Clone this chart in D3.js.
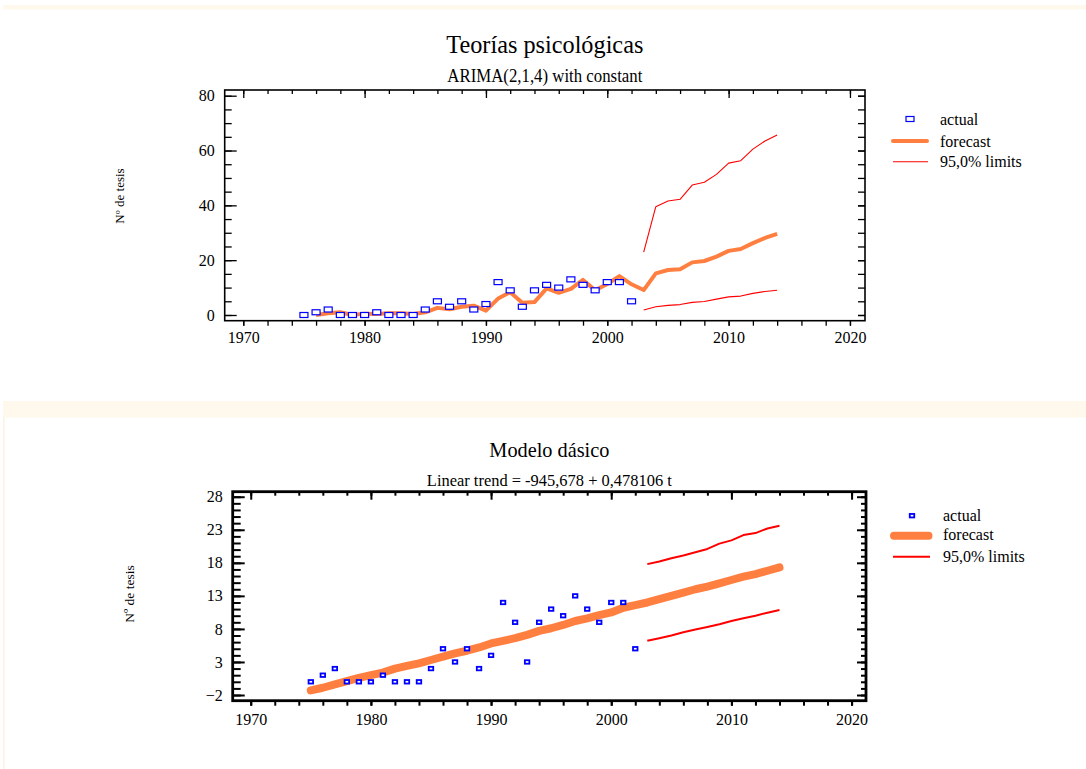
<!DOCTYPE html>
<html>
<head>
<meta charset="utf-8">
<script src="https://cdn.jsdelivr.net/npm/d3@7"></script>
<style>
  html, body { margin: 0; padding: 0; background: #ffffff; }
  svg { display: block; }
  text { font-family: "Liberation Serif", "Times New Roman", serif; fill: #000; }
</style>
</head>
<body>
<svg id="chart" width="1086" height="769"></svg>
<script>
// ---------------- DATA ----------------
const actualYears = [1975,1976,1977,1978,1979,1980,1981,1982,1983,1984,1985,1986,1987,1988,1989,1990,1991,1992,1993,1994,1995,1996,1997,1998,1999,2000,2001,2002];
const actualValues = [0,1,2,0,0,0,1,0,0,0,2,5,3,5,2,4,12,9,3,9,11,10,13,11,9,12,12,5];

// Top chart: ARIMA(2,1,4) forecast
const arimaYears = [1976,1977,1978,1979,1980,1981,1982,1983,1984,1985,1986,1987,1988,1989,1990,1991,1992,1993,1994,1995,1996,1997,1998,1999,2000,2001,2002,2003,2004,2005,2006,2007,2008,2009,2010,2011,2012,2013,2014];
const arimaForecast = [0,0.6,1,0,0.5,0.4,0.6,0.6,0.4,1,2.6,2.1,3,3.4,1.6,6,8.3,4.5,4.7,9.7,8.1,9.5,12.8,9,11.3,14.2,11.2,9.1,15.2,16.4,16.7,19.2,19.7,21.3,23.4,24.1,26.2,28.1,29.6];
const limitYears = [2003,2004,2005,2006,2007,2008,2009,2010,2011,2012,2013,2014];
const arimaUpper = [22.9,39.5,41.6,42.2,47.4,48.4,51.3,55.4,56.3,60.5,63.5,65.7];
const arimaLower = [1.8,3,3.5,3.8,4.6,4.9,5.8,6.6,6.9,7.9,8.6,9];

// Bottom chart: linear trend forecast
const trendYears = [1975,1976,1977,1978,1979,1980,1981,1982,1983,1984,1985,1986,1987,1988,1989,1990,1991,1992,1993,1994,1995,1996,1997,1998,1999,2000,2001,2002,2003,2004,2005,2006,2007,2008,2009,2010,2011,2012,2013,2014];
const trendForecast = [-1.3,-0.9,-0.4,0.1,0.6,1.0,1.4,2.0,2.4,2.8,3.3,3.8,4.3,4.7,5.2,5.8,6.2,6.6,7.1,7.7,8.1,8.6,9.2,9.6,10.1,10.5,11.2,11.6,12.0,12.5,13.0,13.5,14.0,14.4,14.9,15.4,15.9,16.3,16.8,17.3];
const trendUpper = [17.8,18.2,18.7,19.1,19.6,20.1,20.9,21.4,22.2,22.5,23.2,23.6];
const trendLower = [6.2,6.6,7.0,7.5,7.9,8.3,8.7,9.2,9.6,10.0,10.45,10.86];

// Tick labels
const xTickLabels = [1970,1980,1990,2000,2010,2020];
const topYTickLabels = [0,20,40,60,80];
const bottomYTickLabels = [-2,3,8,13,18,23,28];

// Text
const topTitle = "Teorías psicológicas";
const topSubtitle = "ARIMA(2,1,4) with constant";
const bottomTitle = "Modelo dásico";
const bottomSubtitle = "Linear trend = -945,678 + 0,478106 t";
const yLabel = "Nº de tesis";
const legendLabels = ["actual", "forecast", "95,0% limits"];

// ---------------- DRAW ----------------
const FONT = "'Liberation Serif', 'Times New Roman', serif";
const svg = d3.select("#chart");
const ORANGE = "#ff7f40";
const RED = "#ff0000";
const BLUE = "#0000ff";
const CREAM = "#fff8ec";

// panel backgrounds
svg.append("rect").attr("x", 3).attr("y", 5).attr("width", 1083).attr("height", 4.5).attr("fill", CREAM);
svg.append("rect").attr("x", 3).attr("y", 401).attr("width", 1083).attr("height", 16.5).attr("fill", CREAM);
svg.append("rect").attr("x", 3).attr("y", 417).attr("width", 1.5).attr("height", 352).attr("fill", "#fff1e4");

function range(a, b, s) { const r = []; for (let v = a; v <= b + 1e-9; v += s) r.push(+v.toFixed(6)); return r; }

function drawPanel(cfg) {
  const g = svg.append("g").attr("font-family", FONT);
  const x = d3.scaleLinear().domain(cfg.xDomain).range([cfg.left, cfg.right]);
  const y = d3.scaleLinear().domain(cfg.yDomain).range([cfg.bottom, cfg.top]);

  const xMinor = range(1970, 2020, 2);
  const fmt = d3.format("d");
  const styleAxis = a => {
    a.attr("font-family", FONT).attr("font-size", cfg.tickFont);
    a.select(".domain").remove();
    a.selectAll("line").attr("stroke-width", cfg.tickW);
    a.selectAll("text").style("font-family", FONT).style("font-size", cfg.tickFont + "px");
  };

  // bottom axis (outward ticks)
  g.append("g").attr("transform", `translate(0,${cfg.bottom})`)
    .call(d3.axisBottom(x).tickValues(xMinor).tickSize(5).tickFormat("")).call(styleAxis);
  g.append("g").attr("transform", `translate(0,${cfg.bottom})`)
    .call(d3.axisBottom(x).tickValues(xTickLabels).tickSize(5).tickPadding(cfg.xPad).tickFormat(fmt)).call(styleAxis);

  // top axis (inward ticks)
  g.append("g").attr("transform", `translate(0,${cfg.top})`)
    .call(d3.axisTop(x).tickValues(xMinor).tickSize(-4).tickFormat("")).call(styleAxis);
  g.append("g").attr("transform", `translate(0,${cfg.top})`)
    .call(d3.axisTop(x).tickValues(xTickLabels).tickSize(-8).tickFormat("")).call(styleAxis);

  // left axis (inward ticks)
  g.append("g").attr("transform", `translate(${cfg.left},0)`)
    .call(d3.axisLeft(y).tickValues(cfg.yMinor).tickSize(-cfg.leftMinor).tickFormat("")).call(styleAxis);
  g.append("g").attr("transform", `translate(${cfg.left},0)`)
    .call(d3.axisLeft(y).tickValues(cfg.yLabels).tickSize(-12).tickPadding(cfg.yPad).tickFormat(fmt)).call(styleAxis);

  // right axis (inward ticks)
  g.append("g").attr("transform", `translate(${cfg.right},0)`)
    .call(d3.axisRight(y).tickValues(cfg.yMinor).tickSize(-cfg.rightMinor).tickFormat("")).call(styleAxis);
  g.append("g").attr("transform", `translate(${cfg.right},0)`)
    .call(d3.axisRight(y).tickValues(cfg.yLabels).tickSize(-cfg.rightMajor).tickFormat("")).call(styleAxis);

  // frame
  g.append("rect").attr("x", cfg.left).attr("y", cfg.top)
    .attr("width", cfg.right - cfg.left).attr("height", cfg.bottom - cfg.top)
    .attr("fill", "none").attr("stroke", "#000").attr("stroke-width", cfg.frameW);

  // titles
  g.append("text").attr("x", (cfg.left + cfg.right) / 2).attr("y", cfg.titleY)
    .attr("text-anchor", "middle").style("font-size", cfg.titleFont + "px")
    .attr("textLength", cfg.titleLen).attr("lengthAdjust", "spacingAndGlyphs").text(cfg.title);
  g.append("text").attr("x", (cfg.left + cfg.right) / 2).attr("y", cfg.subY)
    .attr("text-anchor", "middle").style("font-size", cfg.subFont + "px")
    .attr("textLength", cfg.subLen).attr("lengthAdjust", "spacingAndGlyphs").text(cfg.subtitle);

  // y label
  g.append("text").attr("transform", `translate(${cfg.yLabX},${cfg.yLabY}) rotate(-90)`)
    .attr("text-anchor", "middle").attr("dominant-baseline", "central")
    .style("font-size", cfg.yLabFont + "px").text(yLabel);

  // limits
  const line = d3.line().x(d => x(d[0])).y(d => y(d[1]));
  [cfg.upper, cfg.lower].forEach(vals => {
    g.append("path").datum(limitYears.map((yr, i) => [yr, vals[i]]))
      .attr("d", line).attr("fill", "none").attr("stroke", RED)
      .attr("stroke-width", cfg.limitW).attr("stroke-linejoin", "round");
  });

  // forecast
  g.append("path").datum(cfg.fYears.map((yr, i) => [yr, cfg.fVals[i]]))
    .attr("d", line).attr("fill", "none").attr("stroke", ORANGE)
    .attr("stroke-width", cfg.fW).attr("stroke-linejoin", "round").attr("stroke-linecap", cfg.fCap);

  // actual markers
  g.selectAll("rect.act").data(actualYears.map((yr, i) => [yr, actualValues[i]])).enter()
    .append("rect").attr("class", "act")
    .attr("x", d => x(d[0]) - cfg.mW / 2).attr("y", d => y(d[1]) - cfg.mH / 2)
    .attr("width", cfg.mW).attr("height", cfg.mH)
    .attr("fill", "#fff").attr("stroke", BLUE).attr("stroke-width", cfg.mSW);

  // legend
  const L = cfg.legend;
  g.append("rect").attr("x", L.mx - cfg.mW / 2).attr("y", L.my - cfg.mH / 2)
    .attr("width", cfg.mW).attr("height", cfg.mH).attr("fill", "#fff")
    .attr("stroke", BLUE).attr("stroke-width", cfg.mSW);
  g.append("line").attr("x1", L.fx1).attr("x2", L.fx2).attr("y1", L.fy).attr("y2", L.fy)
    .attr("stroke", ORANGE).attr("stroke-width", cfg.fW).attr("stroke-linecap", "round");
  g.append("line").attr("x1", L.lx1).attr("x2", L.lx2).attr("y1", L.ly).attr("y2", L.ly)
    .attr("stroke", RED).attr("stroke-width", cfg.limitW);
  legendLabels.forEach((t, i) => {
    g.append("text").attr("x", L.tx).attr("y", L.ty[i]).style("font-size", "16px").text(t);
  });
}

// Top panel
drawPanel({
  left: 224.7, right: 865, top: 90, bottom: 320.7,
  xDomain: [1968.47, 2021.24], yDomain: [-2.08, 82.08],
  yMinor: range(0, 80, 5), yLabels: topYTickLabels,
  leftMinor: 7, rightMinor: 7, rightMajor: 7,
  tickW: 1.3, frameW: 1.6, tickFont: 16, xPad: 6, yPad: 10,
  title: topTitle, titleY: 53, titleFont: 26, titleLen: 197,
  subtitle: topSubtitle, subY: 82, subFont: 19, subLen: 195,
  yLabX: 119, yLabY: 196, yLabFont: 13,
  upper: arimaUpper, lower: arimaLower, limitW: 1.1,
  fYears: arimaYears, fVals: arimaForecast, fW: 4, fCap: "butt",
  mW: 8, mH: 5, mSW: 1.2,
  legend: { mx: 910, my: 119, fx1: 893, fx2: 927, fy: 141, lx1: 893, lx2: 928, ly: 161.7, tx: 940, ty: [125, 146.7, 166.7] }
});

// Bottom panel
drawPanel({
  left: 232.7, right: 866, top: 491.7, bottom: 700.7,
  xDomain: [1968.5, 2021.2], yDomain: [-2.86, 28.76],
  yMinor: range(-2, 28, 1), yLabels: bottomYTickLabels,
  leftMinor: 8, rightMinor: 5, rightMajor: 9,
  tickW: 2, frameW: 2.8, tickFont: 16, xPad: 8, yPad: 10,
  title: bottomTitle, titleY: 457, titleFont: 22, titleLen: 120,
  subtitle: bottomSubtitle, subY: 485.5, subFont: 17, subLen: 245,
  yLabX: 129, yLabY: 594, yLabFont: 13.5,
  upper: trendUpper, lower: trendLower, limitW: 2,
  fYears: trendYears, fVals: trendForecast, fW: 8, fCap: "round",
  mW: 4.5, mH: 3.5, mSW: 1.8,
  legend: { mx: 912, my: 515.7, fx1: 894, fx2: 928.5, fy: 535.7, lx1: 893, lx2: 930, ly: 556.7, tx: 943, ty: [520.7, 540, 561.7] }
});
</script>
</body>
</html>
